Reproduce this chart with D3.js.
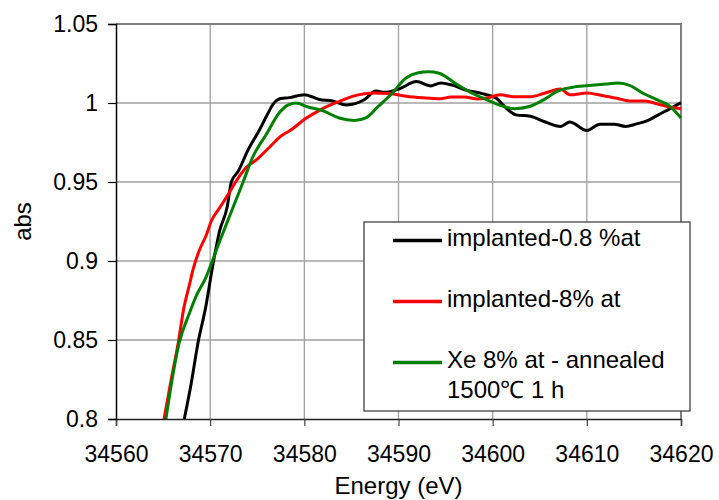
<!DOCTYPE html>
<html>
<head>
<meta charset="utf-8">
<script src="https://cdn.jsdelivr.net/npm/d3@7"></script>
<style>
  body { margin: 0; background: #fff; }
  text { font-family: "Liberation Sans", Arial, sans-serif; }
</style>
</head>
<body>
<div id="container"></div>
<script>
/* CONSTANTS AND GLOBALS */
const width = 719;
const height = 500;
const margin = { top: 24, right: 38, bottom: 81, left: 116 };
const tickFont = 23;
const labelFont = 24;

/* DATA */
const xTicks = [34560, 34570, 34580, 34590, 34600, 34610, 34620];
const yTicks = [0.8, 0.85, 0.9, 0.95, 1, 1.05];

const seriesNames = ["implanted-0.8 %at", "implanted-8% at", "Xe 8% at - annealed|1500\u2103 1 h"];
const seriesColors = ["#000000", "#ff0000", "#008000"];

const blackEnergy = [34567.25, 34568.0, 34568.7, 34569.5, 34570.3, 34571.0, 34571.8, 34572.25, 34573.0, 34574.0,
  34575.2, 34576.1, 34576.65, 34577.5, 34578.4, 34580.0, 34581.6, 34583.0, 34584.45, 34586.4,
  34587.6, 34588.5, 34590.1, 34591.9, 34593.4, 34594.5, 34595.6, 34597.3, 34599.0, 34600.4,
  34601.3, 34602.5, 34604.0, 34605.6, 34607.2, 34608.2, 34610.0, 34611.4, 34612.9, 34614.1,
  34615.3, 34616.5, 34617.5, 34618.9, 34620.0];
const blackAbs = [0.800, 0.823, 0.848, 0.870, 0.898, 0.919, 0.934, 0.950, 0.957, 0.970,
  0.9826, 0.993, 0.999, 1.0028, 1.0034, 1.0053, 1.0022, 1.0013, 0.9988, 1.0022,
  1.0076, 1.0068, 1.0090, 1.0136, 1.0108, 1.0127, 1.0115, 1.0080, 1.0058, 1.0030,
  0.9975, 0.9925, 0.9916, 0.9880, 0.9852, 0.9880, 0.9826, 0.9866, 0.9866, 0.9852,
  0.9868, 0.9890, 0.9922, 0.9966, 1.0002];

const redEnergy = [34565.1, 34565.8, 34566.6, 34567.2, 34567.8, 34568.2, 34568.8, 34569.6, 34570.1, 34571.0,
  34571.9, 34572.7, 34573.8, 34575.0, 34576.3, 34577.5, 34578.6, 34580.1, 34581.8, 34583.5,
  34585.3, 34587.3, 34589.0, 34590.8, 34592.6, 34594.4, 34595.6, 34597.0, 34598.4, 34599.4,
  34600.8, 34602.2, 34604.0, 34605.5, 34607.2, 34608.2, 34610.0, 34611.6, 34613.2, 34614.5,
  34616.2, 34617.5, 34618.8, 34620.0];
const redAbs = [0.800, 0.823, 0.848, 0.870, 0.885, 0.895, 0.906, 0.9166, 0.925, 0.9336,
  0.942, 0.950, 0.959, 0.9645, 0.972, 0.979, 0.983, 0.990, 0.996, 1.0005,
  1.0045, 1.0063, 1.0060, 1.0043, 1.0033, 1.0027, 1.0038, 1.0038, 1.0025, 1.0032,
  1.0052, 1.0040, 1.0040, 1.0062, 1.0088, 1.0052, 1.0063, 1.0047, 1.0030, 1.0013,
  1.0013, 0.9994, 0.9975, 0.9964];

const greenEnergy = [34565.3, 34565.9, 34566.7, 34567.7, 34568.55, 34569.5, 34570.1, 34571.0, 34572.1, 34573.5,
  34574.5, 34576.0, 34577.3, 34578.2, 34579.1, 34580.4, 34582.0, 34583.7, 34585.3, 34586.6,
  34587.8, 34589.3, 34590.8, 34592.0, 34593.2, 34594.3, 34596.2, 34597.9, 34599.4, 34600.8,
  34602.3, 34603.9, 34605.4, 34606.9, 34608.7, 34610.5, 34612.0, 34613.3, 34614.6, 34616.0,
  34617.5, 34618.8, 34620.0];
const greenAbs = [0.800, 0.823, 0.848, 0.8655, 0.8783, 0.889, 0.898, 0.9123, 0.929, 0.950,
  0.9655, 0.9805, 0.9935, 0.9985, 1.0000, 0.9975, 0.9950, 0.9905, 0.9890, 0.9908,
  0.9975, 1.0060, 1.0158, 1.0190, 1.0197, 1.0188, 1.0118, 1.0060, 1.0020, 0.9985,
  0.9964, 0.9978, 1.0020, 1.0075, 1.0102, 1.0112, 1.0120, 1.0126, 1.0110, 1.0060,
  1.0020, 0.9980, 0.9905];

const series = [
  d3.zip(blackEnergy, blackAbs),
  d3.zip(redEnergy, redAbs),
  d3.zip(greenEnergy, greenAbs)
];

/* SCALES */
const svg = d3.select("#container")
  .append("svg")
  .attr("width", width)
  .attr("height", height);

const xScale = d3.scaleLinear()
  .domain([34560, 34620])
  .range([margin.left, width - margin.right]);

const yScale = d3.scaleLinear()
  .domain([0.8, 1.05])
  .range([height - margin.bottom, margin.top]);

// grid
svg.append("g")
  .selectAll("line.vgrid")
  .data(xTicks.slice(1, -1))
  .join("line")
  .attr("x1", d => xScale(d))
  .attr("x2", d => xScale(d))
  .attr("y1", yScale(0.8))
  .attr("y2", yScale(1.05))
  .attr("stroke", "#a0a0a0")
  .attr("stroke-width", 1.3);

svg.append("g")
  .selectAll("line.hgrid")
  .data(yTicks.slice(1, -1))
  .join("line")
  .attr("x1", xScale(34560))
  .attr("x2", xScale(34620))
  .attr("y1", d => yScale(d))
  .attr("y2", d => yScale(d))
  .attr("stroke", "#a0a0a0")
  .attr("stroke-width", 1.3);

// top and right frame
svg.append("path")
  .attr("d", `M${xScale(34560)},${yScale(1.05)}H${xScale(34620)}V${yScale(0.8)}`)
  .attr("fill", "none")
  .attr("stroke", "#808080")
  .attr("stroke-width", 2);

/* LINES */
const line = d3.line()
  .x(d => xScale(d[0]))
  .y(d => yScale(d[1]))
  .curve(d3.curveMonotoneX);

svg.append("clipPath")
  .attr("id", "plot-clip")
  .append("rect")
  .attr("x", xScale(34560))
  .attr("y", yScale(1.05))
  .attr("width", xScale(34620) - xScale(34560) + 2)
  .attr("height", yScale(0.8) - yScale(1.05));

svg.append("g")
  .attr("clip-path", "url(#plot-clip)")
  .selectAll("path")
  .data(series)
  .join("path")
  .attr("d", line)
  .attr("fill", "none")
  .attr("stroke", (d, i) => seriesColors[i])
  .attr("stroke-width", 3)
  .attr("stroke-linejoin", "round");

/* AXES */
const xAxis = d3.axisBottom(xScale)
  .tickValues(xTicks)
  .tickFormat(d3.format("d"))
  .tickSize(7)
  .tickPadding(20);
svg.append("g")
  .attr("transform", `translate(0, ${yScale(0.8)})`)
  .call(xAxis)
  .call(g => g.select(".domain").attr("stroke", "#222").attr("stroke-width", 1.5))
  .call(g => g.selectAll(".tick line").attr("stroke", "#444").attr("stroke-width", 1.2))
  .call(g => g.selectAll(".tick text").attr("font-size", tickFont).attr("fill", "#000")
    .attr("font-family", "'Liberation Sans', Arial, sans-serif"));

const yAxis = d3.axisLeft(yScale)
  .tickValues(yTicks)
  .tickFormat(d => d3.format("")(+d.toFixed(2)))
  .tickSize(8)
  .tickPadding(10);
svg.append("g")
  .attr("transform", `translate(${xScale(34560)}, 0)`)
  .call(yAxis)
  .call(g => g.select(".domain").attr("stroke", "#000").attr("stroke-width", 1.5))
  .call(g => g.selectAll(".tick line").attr("stroke", "#000").attr("stroke-width", 1.2))
  .call(g => g.selectAll(".tick text").attr("font-size", tickFont).attr("fill", "#000")
    .attr("font-family", "'Liberation Sans', Arial, sans-serif"));

// axis titles
svg.append("text")
  .attr("x", (xScale(34560) + xScale(34620)) / 2)
  .attr("y", 494)
  .attr("text-anchor", "middle")
  .attr("font-size", labelFont)
  .text("Energy (eV)");

svg.append("text")
  .attr("transform", `translate(31, ${(yScale(0.8) + yScale(1.05)) / 2}) rotate(-90)`)
  .attr("text-anchor", "middle")
  .attr("font-size", labelFont)
  .text("abs");

/* LEGEND */
const legend = svg.append("g");
legend.append("rect")
  .attr("x", 364)
  .attr("y", 222)
  .attr("width", 326)
  .attr("height", 189)
  .attr("fill", "#fff")
  .attr("stroke", "#333")
  .attr("stroke-width", 1.2);

const rowY = [240.5, 301.5, 362.5];
const item = legend.selectAll("g.item")
  .data(seriesNames)
  .join("g")
  .attr("class", "item")
  .attr("transform", (d, i) => `translate(0, ${rowY[i]})`);

item.append("line")
  .attr("x1", 393)
  .attr("x2", 442)
  .attr("stroke", (d, i) => seriesColors[i])
  .attr("stroke-width", 3.5);

item.append("text")
  .attr("x", 447)
  .attr("y", 0)
  .attr("font-size", labelFont)
  .selectAll("tspan")
  .data(d => d.split("|"))
  .join("tspan")
  .attr("x", 447)
  .attr("dy", (d, i) => i === 0 ? "0.24em" : "1.25em")
  .text(d => d);
</script>
</body>
</html>
